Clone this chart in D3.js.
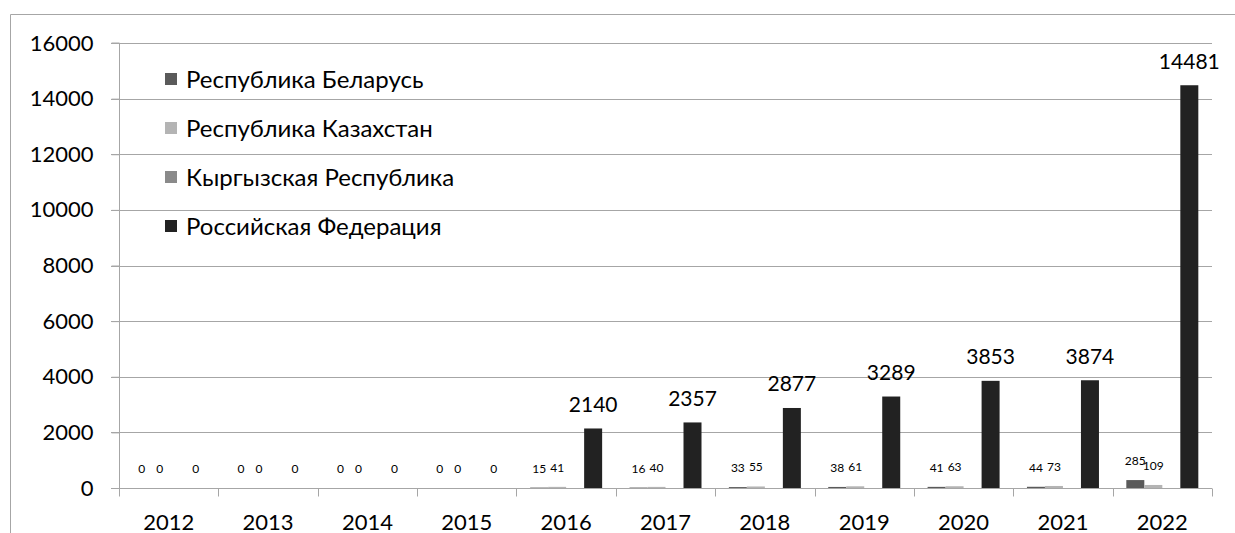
<!DOCTYPE html>
<html><head><meta charset="utf-8">
<script src="https://cdn.jsdelivr.net/npm/d3@7"></script>
<style>body{margin:0;background:#fff;} svg{display:block;font-family:Lato, "Open Sans", sans-serif;}</style>
</head><body>
<svg id="c" width="1235" height="533"></svg>
<script>
const years = ["2012","2013","2014","2015","2016","2017","2018","2019","2020","2021","2022"];
const seriesNames = ["Республика Беларусь","Республика Казахстан","Кыргызская Республика","Российская Федерация"];
const belarus    = [0,0,0,0,15,16,33,38,41,44,285];
const kazakhstan = [0,0,0,0,41,40,55,61,63,73,109];
const kyrgyz     = [null,null,null,null,null,null,null,null,null,null,null];
const russia     = [0,0,0,0,2140,2357,2877,3289,3853,3874,14481];
const yTicks = [0,2000,4000,6000,8000,10000,12000,14000,16000];
const colors = ["#5a5a5a","#b4b4b4","#8a8a8a","#222222"];

const svg = d3.select("#c");
const L=119, R=1212, T=43, B=488;
// outer frame
svg.append("path").attr("d","M10.5,533 V14.5 H1235").attr("fill","none").attr("stroke","#a6a6a6");

const x = d3.scaleBand().domain(years).range([L,R]).paddingInner(0).paddingOuter(0);
const y = d3.scaleLinear().domain([0,16000]).range([B,T]);
const inner = d3.scaleBand().domain(d3.range(4)).range([0,x.bandwidth()]).paddingInner(0).paddingOuter(0.76);

// gridlines
svg.append("g").selectAll("line").data(yTicks.slice(1)).join("line")
  .attr("x1",L-8).attr("x2",R).attr("y1",d=>Math.round(y(d))+0.5).attr("y2",d=>Math.round(y(d))+0.5)
  .attr("stroke","#a6a6a6");
// y axis
const yAxis = svg.append("g").attr("transform",`translate(${L+0.5},0)`)
  .call(d3.axisLeft(y).tickValues(yTicks).tickSize(8).tickPadding(18).tickFormat(d3.format("d")));
yAxis.select(".domain").attr("stroke","#a6a6a6").attr("d",`M-8,${T}H0V${B}`);
yAxis.selectAll(".tick line").attr("stroke","#a6a6a6");
yAxis.selectAll("text").attr("font-size",22).attr("fill","#000").attr("font-family","Lato");

// x axis
const xg = svg.append("g").attr("transform",`translate(0,${B+0.5})`);
xg.append("line").attr("x1",L-8).attr("x2",R).attr("stroke","#a6a6a6");
xg.selectAll(".tk").data(years.concat(["end"])).join("line")
  .attr("x1",(d,i)=>Math.round(L+i*x.bandwidth())+0.5).attr("x2",(d,i)=>Math.round(L+i*x.bandwidth())+0.5)
  .attr("y1",0).attr("y2",8).attr("stroke","#a6a6a6");
xg.selectAll("text").data(years).join("text")
  .attr("x",d=>x(d)+x.bandwidth()/2).attr("y",41).attr("text-anchor","middle")
  .attr("font-size",22).attr("fill","#000").text(d=>d);

// bars
const all = [belarus,kazakhstan,kyrgyz,russia];
all.forEach((vals,si)=>{
  const g = svg.append("g");
  const data = years.map((yr,i)=>({yr,v:vals[i]})).filter(d=>d.v!==null);
  g.selectAll("rect").data(data).join("rect")
    .attr("x",d=>x(d.yr)+inner(si)).attr("width",inner.bandwidth())
    .attr("y",d=>y(d.v)).attr("height",d=>B-y(d.v)).attr("fill",colors[si]);
  g.selectAll("text").data(data).join("text")
    .attr("x",d=>x(d.yr)+inner(si)+inner.bandwidth()/2)
    .attr("y",d=> (si===3 && d.v>0) ? y(d.v)-16.5 : y(d.v)-15)
    .attr("text-anchor","middle")
    .attr("fill","#000")
    .attr("font-size",d=> (si===3 && d.v>0) ? 21 : 12)
    .text(d=>d.v);
});

// legend
const lg = svg.append("g");
seriesNames.forEach((n,i)=>{
  const cy = 79 + i*49;
  lg.append("rect").attr("x",165).attr("y",cy-6).attr("width",12).attr("height",12).attr("fill",colors[i]);
  lg.append("text").attr("x",186).attr("y",cy).attr("dy","0.36em").attr("font-size",24).attr("fill","#000").text(n);
});
</script>
</body></html>
